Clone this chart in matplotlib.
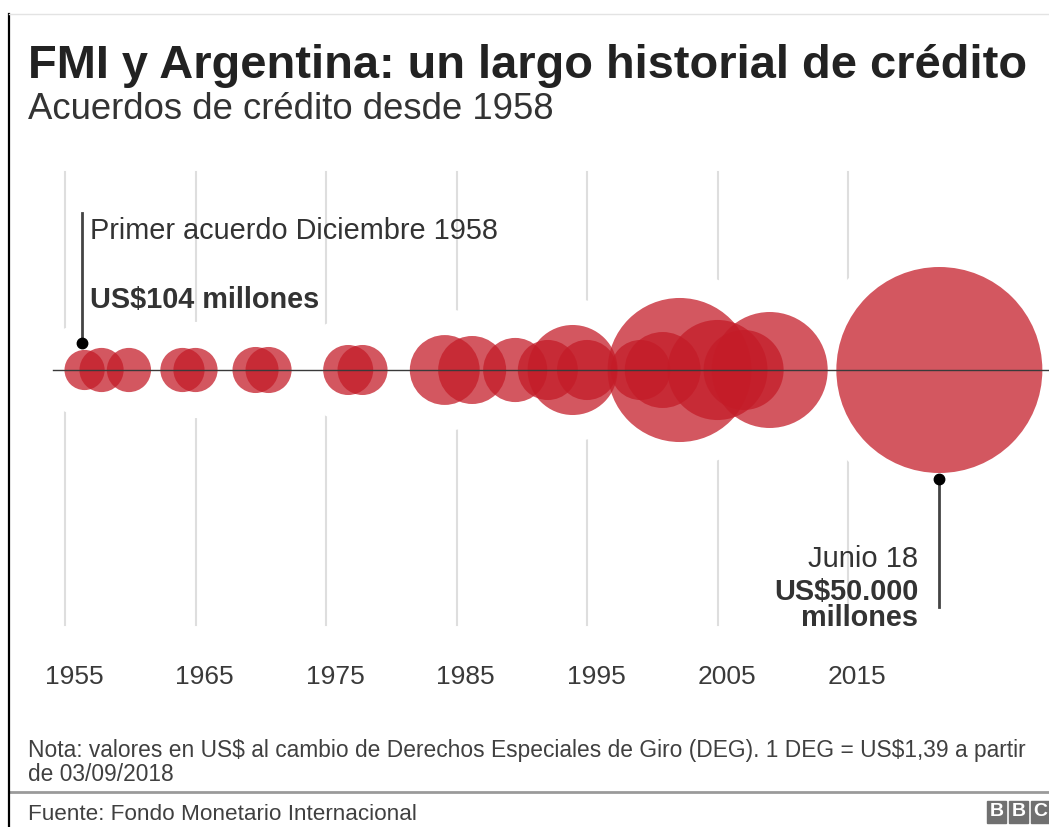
import matplotlib
matplotlib.use("Agg")
import matplotlib.pyplot as plt
from matplotlib.patches import Rectangle
import numpy as np

# datos (posicion en años segun la rejilla, area relativa de la burbuja, 100 = 2018)
anos = [1956.5, 1957.8, 1959.9, 1964.0, 1965.0, 1969.6, 1970.6, 1976.7, 1977.8,
        1984.1, 1986.2, 1989.5, 1992.0, 1993.9, 1995.0, 1999.1, 2000.8, 2002.1,
        2005.0, 2007.0, 2009.0, 2022.0]
area_rel = [3.8, 4.6, 4.6, 4.6, 4.6, 5.0, 5.0, 5.9, 5.9,
            11.5, 10.9, 9.7, 8.5, 19.1, 8.5, 8.5, 13.6, 48.9,
            23.6, 15.1, 31.7, 100.0]
anos_eje = [1955, 1965, 1975, 1985, 1995, 2005, 2015]

titulo = "FMI y Argentina: un largo historial de crédito"
subtitulo = "Acuerdos de crédito desde 1958"
nota = ["Nota: valores en US$ al cambio de Derechos Especiales de Giro (DEG). 1 DEG = US$1,39 a partir",
        "de 03/09/2018"]
fuente = "Fuente: Fondo Monetario Internacional"

plt.rcParams['font.family'] = ['Liberation Sans', 'DejaVu Sans']
plt.rcParams['text.parse_math'] = False

W, H = 1049, 827
DPI = 100
fig = plt.figure(figsize=(W / DPI, H / DPI), dpi=DPI)
fig.patch.set_facecolor("white")

def fx(px):
    return px / W

def fy(py):
    return 1 - py / H

# eje: x en años (13.05 px por año, 1955 en px 65), y en pixeles sobre la linea base (py 370)
PX_ANO = 13.05
ax = fig.add_axes([0, 0, 1, 1])
ax.set_xlim(1955 - 65 / PX_ANO, 1955 + (W - 65) / PX_ANO)
ax.set_ylim(370 - H, 370)
ax.axis("off")

R_MAX = 103  # radio en px de la burbuja mayor
radios = [R_MAX * np.sqrt(a / 100) for a in area_rel]
pt = 72 / DPI
PAD = 26

# rejilla vertical
for a in anos_eje:
    ax.plot([a, a], [370 - 172, 370 - 625], color="#dedede", lw=1.5, zorder=1)
    ax.text(a + 9 / PX_ANO, 370 - 677, str(a), ha="center", va="center",
            fontsize=19, color="#3a3a3a")

# halo blanco que corta la rejilla
ax.scatter(anos, [0] * len(anos), s=[(2 * (r + PAD) * pt) ** 2 for r in radios],
           color="white", linewidths=0, zorder=2)
# burbujas
ax.scatter(anos, [0] * len(anos), s=[(2 * r * pt) ** 2 for r in radios],
           color="#c41c28", alpha=0.74, linewidths=0, zorder=3)

ax.plot([1955 - 12 / PX_ANO, ax.get_xlim()[1]], [0, 0], color="#3a3a3a", lw=1, zorder=4)

# anotacion primer acuerdo
x_dot = anos[0] - 2.5 / PX_ANO
y_dot = radios[0] + 7
ax.plot([x_dot, x_dot], [y_dot, 370 - 213], color="#444444", lw=2, zorder=4)
ax.plot(x_dot, y_dot, "o", color="black", ms=7.5, zorder=5)
fig.text(fx(90), fy(239), "Primer acuerdo Diciembre 1958", fontsize=20.8,
         color="#333333", va="baseline")
fig.text(fx(90), fy(308), "US$104 millones", fontsize=20.8, fontweight="bold",
         color="#333333", va="baseline")

# anotacion 2018
y_dot2 = -(radios[-1] + 6)
ax.plot([anos[-1], anos[-1]], [y_dot2, 370 - 607], color="#444444", lw=2, zorder=4)
ax.plot(anos[-1], y_dot2, "o", color="black", ms=7.5, zorder=5)
fig.text(fx(918), fy(567), "Junio 18", fontsize=21, color="#333333",
         ha="right", va="baseline")
fig.text(fx(918), fy(600), "US$50.000", fontsize=20.8, fontweight="bold",
         color="#333333", ha="right", va="baseline")
fig.text(fx(918), fy(626), "millones", fontsize=20.8, fontweight="bold",
         color="#333333", ha="right", va="baseline")

# titulos
fig.text(fx(28), fy(78), titulo, fontsize=33.8, fontweight="bold", color="#222222",
         va="baseline")
fig.text(fx(28), fy(119), subtitulo, fontsize=26.3, color="#333333", va="baseline")

# pie
fig.text(fx(28), fy(757), nota[0], fontsize=16.4, color="#404040", va="baseline")
fig.text(fx(28), fy(781), nota[1], fontsize=16.4, color="#404040", va="baseline")
fig.add_artist(plt.Line2D([fx(9), 1], [fy(792), fy(792)], color="#9a9a9a", lw=2))
fig.text(fx(28), fy(820), fuente, fontsize=16.2, color="#404040", va="baseline")

# logo BBC
for i, letra in enumerate("BBC"):
    x0 = 987 + i * 22
    fig.add_artist(Rectangle((fx(x0), fy(823)), 19 / W, 22 / H, color="#707070",
                             transform=fig.transFigure))
    fig.text(fx(x0 + 9.5), fy(812), letra, fontsize=14, fontweight="bold",
             color="white", ha="center", va="center")

# marco
fig.add_artist(plt.Line2D([fx(9), fx(9)], [fy(14), 0], color="black", lw=1.6))
fig.add_artist(plt.Line2D([fx(9), 1], [fy(14), fy(14)], color="#e3e3e3", lw=1))

fig.savefig("out.png", dpi=DPI)
